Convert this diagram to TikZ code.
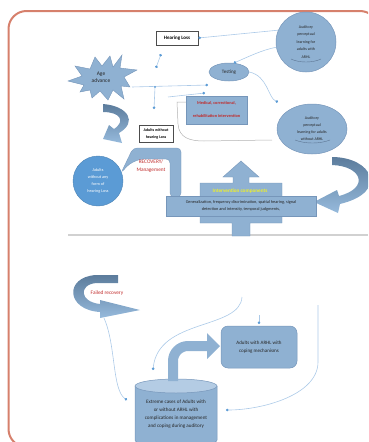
\documentclass[tikz,border=0pt]{standalone}
\usepackage{fontspec}
\setmainfont{Carlito}
\usetikzlibrary{arrows.meta,shapes.geometric}
\newcommand{\myfs}[2]{\fontsize{#1}{#2}\selectfont}
\definecolor{framec}{RGB}{214,128,108}
\definecolor{bfill}{RGB}{143,177,210}
\definecolor{bedge}{RGB}{118,150,186}
\definecolor{bright}{RGB}{91,155,213}
\definecolor{connc}{RGB}{172,202,232}
\definecolor{dotc}{RGB}{91,155,213}
\definecolor{redt}{RGB}{192,42,42}
\definecolor{darkband}{RGB}{92,124,156}
\definecolor{lightband}{RGB}{150,186,220}
\definecolor{yellowt}{RGB}{240,240,40}
\definecolor{cyltop}{RGB}{180,204,228}
\begin{document}
\begin{tikzpicture}[x=1pt,y=-1pt,
  conn/.style={draw=connc, line width=0.6pt},
  dotend/.style={-{Circle[length=2.6pt,color=dotc]}},
  dotboth/.style={{Circle[length=2.6pt,color=dotc]}-{Circle[length=2.6pt,color=dotc]}},
  blob/.style={fill=bfill, draw=bedge, line width=0.5pt},
  txt/.style={text=black!85, align=center, inner sep=0pt},
  wbox/.style={draw=black!70, fill=white, line width=0.7pt, align=center, inner sep=0pt},
  band/.style={top color=darkband, bottom color=lightband}]
\useasboundingbox (0,0) rectangle (368,442);
\clip (0,0) rectangle (368,442);
% frame
\draw[framec, line width=2pt, rounded corners=18pt] (8.5,11) rectangle (378,447);
% separator
\draw[black!18, line width=1.2pt] (68,235) -- (368,235);

% ---------- upper part ----------
% starburst
\filldraw[fill=bfill, draw=bedge, line width=0.4pt]
  (68,81) -- (82,76) -- (75,66) -- (90,69) -- (95,57) -- (102,66) -- (110,56) -- (113,67)
  -- (122,55) -- (120,68) -- (137,70) -- (124,77) -- (130,87) -- (121,86) -- (124,99)
  -- (113,90) -- (108,100) -- (100,91) -- (92,98) -- (90,90) -- (80,92) -- (84,85) -- cycle;
\node[txt, font=\myfs{5.5}{7}] (age) at (101,77) {Age\\advance};

\node[wbox, minimum width=42pt, minimum height=14pt, font=\bfseries\myfs{5}{6}] (hl) at (177,38) {Hearing Loss};
\node[blob, circle, minimum size=60pt, txt, font=\myfs{4}{7.5}] (c1) at (306,42) {Auditory\\perceptual\\learning for\\adults with\\ARHL};
\draw[bedge!80!black, line width=0.4pt] (291,59) .. controls (299,63) and (313,63) .. (321,59);
\node[blob, ellipse, minimum width=40pt, minimum height=18pt, txt, font=\myfs{5}{6}] (testing) at (229,72) {Testing};
\node[blob, minimum width=61pt, minimum height=28pt, txt, text=redt, font=\bfseries\myfs{4.3}{13}] (med) at (216.5,110) {Medical, correctional,\\rehabilitation intervention};
\node[wbox, minimum width=34pt, minimum height=17pt, font=\bfseries\myfs{4}{7}] (awhl) at (156,133.5) {Adults without\\hearing Loss};
\node[blob, ellipse, minimum width=70pt, minimum height=50pt, txt, font=\myfs{4}{7}] (c2) at (312,129) {Auditory\\perceptual\\learning for adults\\without ARHL};
\draw[bedge!80!black, line width=0.4pt] (295,140) .. controls (305,144) and (320,144) .. (330,140);
\node[circle, fill=bright, draw=bright!85!black, line width=0.4pt, minimum size=50pt, txt, text=white, font=\myfs{4.2}{7}] (c3) at (98,181) {Adults\\without any\\form of\\hearing Loss};

% connectors (top)
\coordinate (s1) at (161,54); \coordinate (s2) at (156,68);
\coordinate (agee) at (132,87); \coordinate (j1) at (155,87); \coordinate (h1) at (208,85);
\coordinate (v1) at (154,109); \coordinate (q0) at (168,97); \coordinate (q1) at (205,93);
\coordinate (d3) at (278,102);
\draw[conn, dotboth] (s1) -- (s2);
\draw[conn, dotend] (agee) -- (h1);
\fill[dotc] (j1) circle[radius=1.2];
\draw[conn, dotend] (j1) -- (v1);
\draw[conn, dotend] (q0) -- (q1);
\draw[conn, dotend] (c1.157) -- (hl.east);
\draw[conn, dotend] (c1.190) .. controls (262,50) and (250,56) .. (testing.62);
\draw[conn, dotend] (testing.east) .. controls (268,76) and (268,98) .. (d3);
% grey bracket line
\coordinate (mw) at (186,102); \coordinate (bk) at (272,140);
\draw[black!30, line width=0.5pt] (mw) -- (177,102) -- (178,124) .. controls (179,138) and (190,141) .. (204,141) -- (bk);

% curved band arrows
\shade[band] (103,104) .. controls (128,106) and (138,122) .. (119,133) -- (122,143) -- (103,139)
  -- (109,125) -- (114,129) .. controls (126,121) and (120,112) .. (103,112) -- cycle;
\shade[band] (332,157) .. controls (372,157) and (390,192) .. (340,204) -- (338,213) -- (314,202)
  -- (337,190) -- (339,196) .. controls (370,188) and (362,166) .. (332,165) -- cycle;

% recovery U-arrow
\filldraw[fill=bfill, draw=bedge, line width=0.3pt, rounded corners=4pt]
  (181,197) -- (181,148) -- (133,148) -- (121,173) -- (129,164) -- (140,159) -- (170,159) -- (170,197) -- cycle;
\node[txt, text=redt, font=\myfs{5.3}{8.5}] (rec) at (151,166) {RECOVERY/\\Management};

% intervention cross arrow
\filldraw[fill=bfill, draw=bedge, line width=0.4pt]
  (241,161) -- (259,177) -- (249,177) -- (249,183) -- (282,183) -- (282,223) -- (250,223) -- (250,236)
  -- (232,236) -- (232,223) -- (200,223) -- (200,183) -- (233,183) -- (233,177) -- (223,177) -- cycle;
\node[txt, text=yellowt, font=\bfseries\myfs{5.2}{6}] (ic) at (240,191) {Intervention components};
\node[blob, minimum width=150pt, minimum height=20pt, txt, font=\myfs{4.3}{7}] (gen) at (241,206) {Generalization, frequency discrimination, spatial hearing, signal\\detection and intensity, temporal judgments,};

% ---------- lower part ----------
\shade[band] (118,275) -- (96,275) .. controls (64,277) and (66,310) .. (100,312) -- (100,318) -- (140,310)
  -- (100,300) -- (100,304) .. controls (80,302) and (78,285) .. (96,283) -- (118,283) -- cycle;
\node[txt, text=redt, font=\myfs{5.3}{6}] (fr) at (107,293) {Failed recovery};

% cylinder
\filldraw[fill=bfill, draw=bedge, line width=0.5pt] (135,386) -- (135,440) .. controls (135,449) and (217,449) .. (217,440) -- (217,386) -- cycle;
\filldraw[fill=cyltop, draw=bedge, line width=0.5pt] (176,386) ellipse[x radius=41, y radius=7];
\node[txt, font=\myfs{5.1}{8.2}] (cyl) at (176,414) {Extreme cases of Adults with\\or without ARHL with\\complications in management\\and coping during auditory};

\node[blob, rounded corners=7pt, minimum width=76pt, minimum height=42pt, txt, font=\myfs{5}{8}] (box2) at (259,347) {Adults with ARHL with\\coping mechanisms};

% bent arrow from cylinder to box
\coordinate (ct) at (173,381); \coordinate (ah) at (208,346);
\draw[bfill, line width=10pt, rounded corners=15pt] (ct) -- (173,346) -- (ah);
\fill[bfill] (207,333) -- (220,346) -- (207,359) -- cycle;

% connectors (bottom)
\coordinate (fa) at (104,318); \coordinate (da) at (127,400);
\coordinate (b0) at (242,297); \coordinate (db) at (153,370);
\coordinate (c0) at (259,315); \coordinate (dc) at (259,324);
\coordinate (e0) at (318,305); \coordinate (de) at (226,410);
\draw[conn, dotend] (fa) .. controls (116,345) and (112,390) .. (da);
\draw[conn, dotend] (b0) .. controls (240,330) and (158,318) .. (db);
\draw[conn, dotend] (c0) -- (dc);
\draw[conn, dotend] (e0) -- (318,362) .. controls (318,395) and (262,410) .. (de);
\end{tikzpicture}
\end{document}
